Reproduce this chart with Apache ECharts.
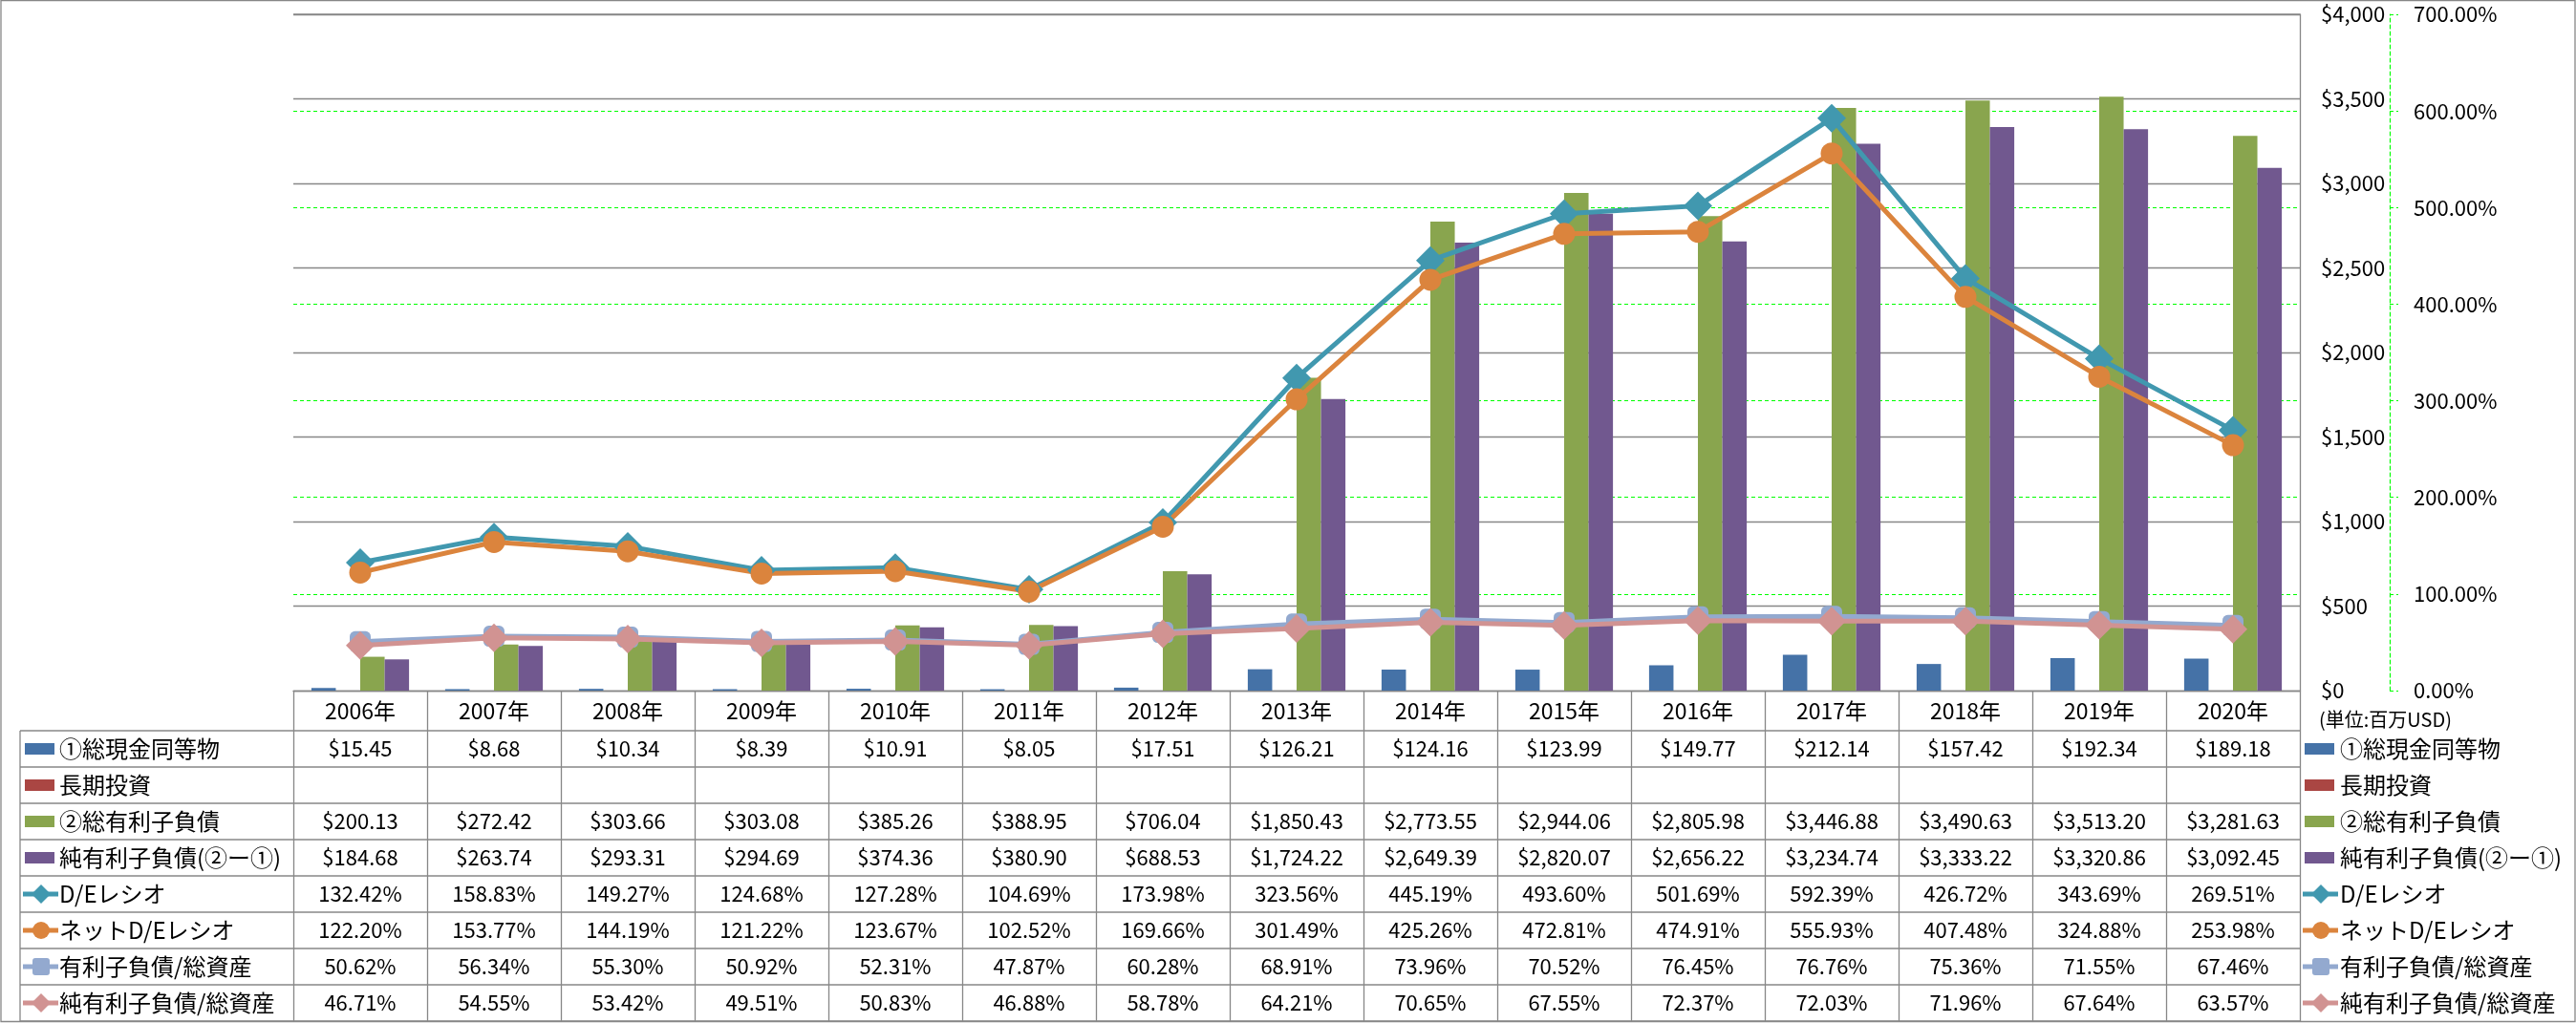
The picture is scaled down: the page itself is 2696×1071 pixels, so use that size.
<!DOCTYPE html>
<html><head><meta charset="utf-8">
<script src="https://cdn.jsdelivr.net/npm/echarts@6/dist/echarts.min.js"></script>
<style>html,body{margin:0;padding:0;background:#fff}#c{width:2696px;height:1071px}</style>
</head><body><div id="c"></div>
<script>
// ---- data ----
const categories = ['2006年','2007年','2008年','2009年','2010年','2011年','2012年','2013年','2014年','2015年','2016年','2017年','2018年','2019年','2020年'];
const cash = [15.45, 8.68, 10.34, 8.39, 10.91, 8.05, 17.51, 126.21, 124.16, 123.99, 149.77, 212.14, 157.42, 192.34, 189.18];
const longTermInv = [null, null, null, null, null, null, null, null, null, null, null, null, null, null, null];
const totalDebt = [200.13, 272.42, 303.66, 303.08, 385.26, 388.95, 706.04, 1850.43, 2773.55, 2944.06, 2805.98, 3446.88, 3490.63, 3513.20, 3281.63];
const netDebt = [184.68, 263.74, 293.31, 294.69, 374.36, 380.90, 688.53, 1724.22, 2649.39, 2820.07, 2656.22, 3234.74, 3333.22, 3320.86, 3092.45];
const deRatio = [132.42, 158.83, 149.27, 124.68, 127.28, 104.69, 173.98, 323.56, 445.19, 493.60, 501.69, 592.39, 426.72, 343.69, 269.51];
const netDeRatio = [122.20, 153.77, 144.19, 121.22, 123.67, 102.52, 169.66, 301.49, 425.26, 472.81, 474.91, 555.93, 407.48, 324.88, 253.98];
const debtToAssets = [50.62, 56.34, 55.30, 50.92, 52.31, 47.87, 60.28, 68.91, 73.96, 70.52, 76.45, 76.76, 75.36, 71.55, 67.46];
const netDebtToAssets = [46.71, 54.55, 53.42, 49.51, 50.83, 46.88, 58.78, 64.21, 70.65, 67.55, 72.37, 72.03, 71.96, 67.64, 63.57];
const seriesNames = ['①総現金同等物','長期投資','②総有利子負債','純有利子負債(②ー①)','D/Eレシオ','ネットD/Eレシオ','有利子負債/総資産','純有利子負債/総資産'];
const unitLabel = '(単位:百万USD)';

// ---- styling ----
const FONT = "'Noto Sans CJK JP','Noto Sans',sans-serif";
const GRAY = '#878787';
const GREEN = '#00ff00';
const fmtMoney = v => v == null ? '' : '$' + v.toLocaleString('en-US', {minimumFractionDigits: 2, maximumFractionDigits: 2});
const fmtPct = v => v == null ? '' : v.toFixed(2) + '%';

const rows = [
  {name: seriesNames[0], data: cash, kind: 'bar', color: '#4572A7', fmt: fmtMoney},
  {name: seriesNames[1], data: longTermInv, kind: 'bar', color: '#AA4643', fmt: fmtMoney},
  {name: seriesNames[2], data: totalDebt, kind: 'bar', color: '#89A54E', fmt: fmtMoney},
  {name: seriesNames[3], data: netDebt, kind: 'bar', color: '#71588F', fmt: fmtMoney},
  {name: seriesNames[4], data: deRatio, kind: 'line', color: '#4198AF', symbol: 'diamond', size: 30, fmt: fmtPct},
  {name: seriesNames[5], data: netDeRatio, kind: 'line', color: '#DB843D', symbol: 'circle', size: 23, fmt: fmtPct},
  {name: seriesNames[6], data: debtToAssets, kind: 'line', color: '#93A9CF', symbol: 'roundRect', size: 22, fmt: fmtPct},
  {name: seriesNames[7], data: netDebtToAssets, kind: 'line', color: '#D19392', symbol: 'diamond', size: 30, fmt: fmtPct}
];

const series = rows.map(r => r.kind === 'bar' ? {
  name: r.name, type: 'bar', yAxisIndex: 0, data: r.data,
  barGap: '0%', barCategoryGap: '27%',
  itemStyle: {color: r.color}
} : {
  name: r.name, type: 'line', yAxisIndex: 1, data: r.data,
  symbol: r.symbol, symbolSize: r.size,
  lineStyle: {color: r.color, width: 5},
  itemStyle: {color: r.color},
  z: 3
});

const chart = echarts.init(document.getElementById('c'), null, {renderer: 'canvas'});
chart.setOption({
  animation: false,
  backgroundColor: '#fff',
  textStyle: {fontFamily: FONT},
  grid: {left: 307, right: 289, top: 15, bottom: 348, containLabel: false},
  xAxis: {
    type: 'category', data: categories, z: 2,
    axisLine: {lineStyle: {color: GRAY, width: 1.3}},
    axisTick: {show: true, length: 347, lineStyle: {color: GRAY, width: 1.3}},
    axisLabel: {interval: 0, margin: 10, fontSize: 23, color: '#000', fontFamily: FONT},
    splitLine: {show: false}
  },
  yAxis: [{
    type: 'value', position: 'right', min: 0, max: 4000, interval: 500, z: 1,
    axisLine: {show: true, lineStyle: {color: GRAY, width: 1.3}},
    axisTick: {show: false},
    axisLabel: {margin: 22, fontSize: 22, color: '#000', fontFamily: FONT,
      formatter: v => '$' + v.toLocaleString('en-US')},
    splitLine: {show: true, lineStyle: {color: GRAY, width: 1.3}}
  }, {
    type: 'value', position: 'right', offset: 94, min: 0, max: 700, interval: 100, z: 0,
    axisLine: {show: true, lineStyle: {color: GREEN, width: 1.2, type: [4, 3]}},
    axisTick: {show: true, length: 9, lineStyle: {color: GREEN, width: 1.2, type: [4, 3]}},
    axisLabel: {margin: 25, fontSize: 22, color: '#000', fontFamily: FONT,
      formatter: v => v.toFixed(2) + '%'},
    splitLine: {show: true, lineStyle: {color: GREEN, width: 1.2, type: [4, 3]}}
  }],
  series: series
});

// ---- data table & legend keys (graphic, positioned from the axes) ----
const cx = categories.map(c => chart.convertToPixel({xAxisIndex: 0}, c));
const colW = cx[1] - cx[0];
const xEnd = cx[cx.length - 1] + colW / 2;
const yBase = chart.convertToPixel({yAxisIndex: 0}, 0);
const yTop = chart.convertToPixel({yAxisIndex: 0}, 4000);
const headerH = 42, rowH = 38;
const tableTop = yBase + headerH;
const tableLeft = 21;
const g = [];
const lineStyle = {stroke: GRAY, lineWidth: 1.3};
// top gridline drawn in gray above the green one
g.push({type: 'line', shape: {x1: cx[0] - colW / 2, y1: yTop, x2: xEnd, y2: yTop}, style: lineStyle, z: 10});
for (let i = 0; i <= rows.length; i++) {
  const y = tableTop + i * rowH;
  g.push({type: 'line', shape: {x1: tableLeft, y1: y, x2: xEnd, y2: y}, style: lineStyle, z: 10});
}
g.push({type: 'line', shape: {x1: tableLeft, y1: tableTop, x2: tableLeft, y2: tableTop + rows.length * rowH}, style: lineStyle, z: 10});

function key(r, x0, cyk) {
  const out = [];
  if (r.kind === 'bar') {
    out.push({type: 'rect', shape: {x: x0 + 2, y: cyk - 6, width: 31, height: 12}, style: {fill: r.color}, z: 10});
  } else {
    const mx = x0 + 19;
    out.push({type: 'line', shape: {x1: x0, y1: cyk, x2: x0 + 37, y2: cyk}, style: {stroke: r.color, lineWidth: 5}, z: 10});
    if (r.symbol === 'diamond') {
      out.push({type: 'polygon', shape: {points: [[mx, cyk - 10], [mx + 10, cyk], [mx, cyk + 10], [mx - 10, cyk]]}, style: {fill: r.color}, z: 11});
    } else if (r.symbol === 'circle') {
      out.push({type: 'circle', shape: {cx: mx, cy: cyk, r: 9}, style: {fill: r.color}, z: 11});
    } else {
      out.push({type: 'rect', shape: {x: mx - 9, y: cyk - 9, width: 18, height: 18, r: 3}, style: {fill: r.color}, z: 11});
    }
  }
  return out;
}

rows.forEach((r, i) => {
  const cyr = tableTop + i * rowH + rowH / 2;
  g.push(...key(r, 24, cyr));
  g.push({type: 'text', x: 62, y: cyr, style: {text: r.name, fontSize: 24, fontFamily: FONT, fill: '#000', align: 'left', verticalAlign: 'middle'}, z: 10});
  g.push(...key(r, 2410, cyr));
  g.push({type: 'text', x: 2449, y: cyr, style: {text: r.name, fontSize: 24, fontFamily: FONT, fill: '#000', align: 'left', verticalAlign: 'middle'}, z: 10});
  r.data.forEach((v, j) => {
    const t = r.fmt(v);
    if (t) g.push({type: 'text', x: cx[j], y: cyr, style: {text: t, fontSize: 22, fontFamily: FONT, fill: '#000', align: 'center', verticalAlign: 'middle'}, z: 10});
  });
});
g.push({type: 'text', x: 2427, y: yBase + 30, style: {text: unitLabel, fontSize: 20, fontFamily: FONT, fill: '#000', align: 'left', verticalAlign: 'middle'}, z: 10});
g.push({type: 'rect', shape: {x: 1, y: 0.5, width: 2694, height: 1069}, style: {fill: 'none', stroke: GRAY, lineWidth: 1.3}, z: 12});
chart.setOption({graphic: g});
</script>
</body></html>
